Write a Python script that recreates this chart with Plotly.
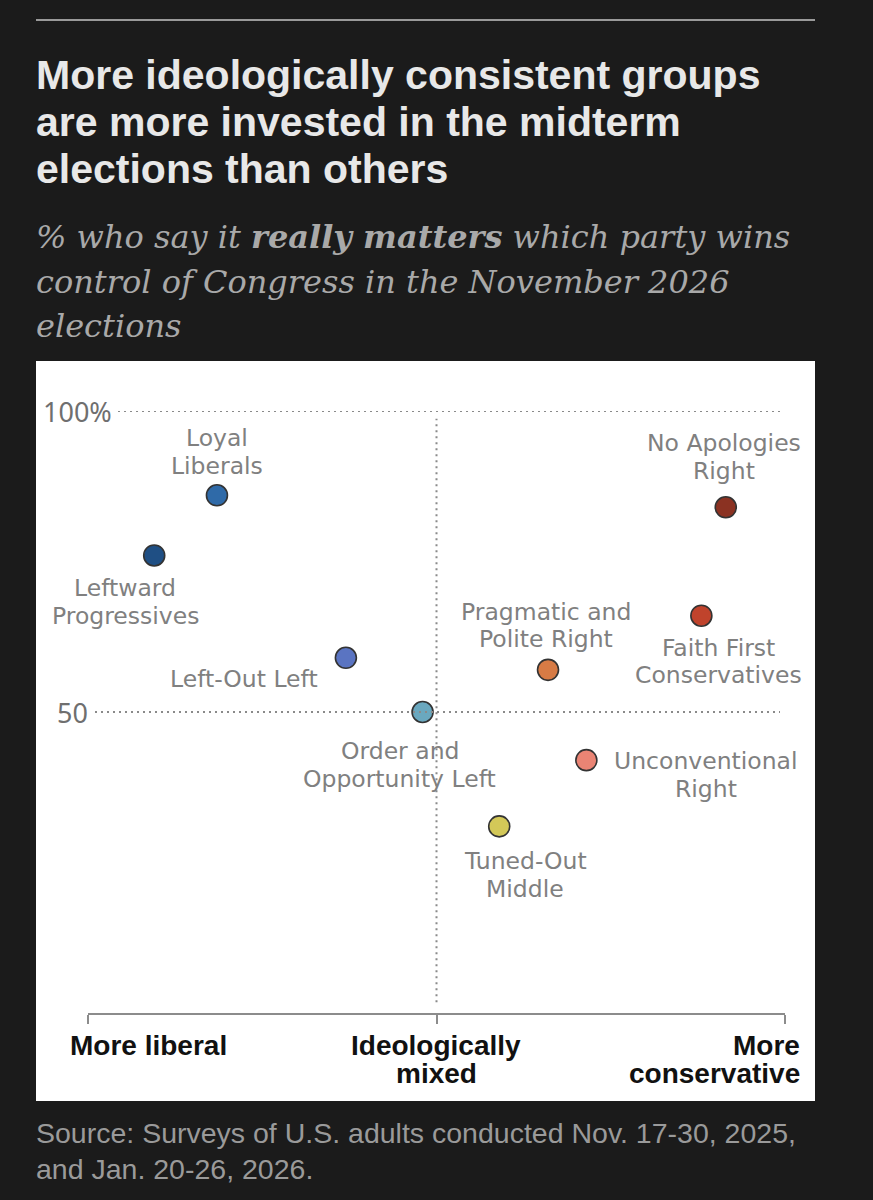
import plotly.graph_objects as go

# data
groups = [
    "Loyal<br>Liberals", "Leftward<br>Progressives", "Left-Out Left",
    "Order and<br>Opportunity Left", "No Apologies<br>Right",
    "Faith First<br>Conservatives", "Pragmatic and<br>Polite Right",
    "Unconventional<br>Right", "Tuned-Out<br>Middle",
]
ideology = [-63, -81, -26, -4, 83, 76, 32, 43, 18]  # -100 liberal .. 100 conservative
really_matters = [86, 76, 59, 50, 84, 66, 57, 42, 31]
colors = ["#2f6aa8", "#1f4f84", "#5a74c2", "#6aa8bf", "#8b3222",
          "#c0432c", "#d77b45", "#ea8474", "#d3c858"]
# label placement relative to the dot, pixels: x shift, y shift of each line (up is +)
label_dx = [0, -29, -102, -23, -2, 17, -2, 120, 26]
label_dy = [(57, 29.5), (-33, -60.5), (-21,), (-39, -66.5), (64, 36.5),
            (-32, -59.5), (58, 30.5), (-1, -28.5), (-35, -62.5)]

y_ticks = [50, 100]
y_ticktext = ["50", "100%"]
x_ticks = [-100, 0, 100]
x_ticktext = ["More liberal", "Ideologically<br>mixed", "More<br>conservative"]

title_lines = ["More ideologically consistent groups",
               "are more invested in the midterm",
               "elections than others"]
subtitle_lines = ["<i>% who say it <b>really matters</b> which party wins</i>",
                  "<i>control of Congress in the November 2026</i>",
                  "<i>elections</i>"]
source_lines = ["Source: Surveys of U.S. adults conducted Nov. 17-30, 2025,",
                "and Jan. 20-26, 2026."]

W, H = 873, 1200
L, R, T, B = 88, 785, 411, 1013   # plot area in pixels


def px(x):
    return (x - L) / (R - L)


def py(y):
    return (B - y) / (B - T)


BG = "#1b1b1b"
LABEL = "#808080"
SANS = "Liberation Sans, Arial, sans-serif"
LAB_FONT = "DejaVu Sans, Noto Sans, sans-serif"

fig = go.Figure()

fig.add_trace(go.Scatter(
    x=ideology, y=really_matters, mode="markers",
    marker=dict(size=21, color=colors, line=dict(color="#333333", width=1.6)),
    hoverinfo="skip", cliponaxis=False, showlegend=False,
))

shapes = [
    # top rule
    dict(type="line", xref="paper", yref="paper", x0=px(36), x1=px(815),
         y0=py(20), y1=py(20), line=dict(color="#9a9a9a", width=2)),
    # white panel
    dict(type="rect", xref="paper", yref="paper", x0=px(36), x1=px(815),
         y0=py(361), y1=py(1101), fillcolor="white", line=dict(width=0),
         layer="below"),
    # vertical dotted line at the middle
    dict(type="line", xref="x", yref="y", x0=0, x1=0, y0=1.8, y1=98.7,
         line=dict(color="#8a8a8a", width=2, dash="2px,4px")),
]
# dotted gridlines
grid_start = {50: px(95), 100: px(118)}
for v in y_ticks:
    shapes.append(dict(type="line", xref="paper", yref="y", x0=grid_start[v],
                       x1=px(780), y0=v, y1=v,
                       line=dict(color="#8a8a8a", width=2, dash="2px,4px")))

annotations = []


def text_line(t, x, y, size, color, family, anchor="left", weight="normal"):
    annotations.append(dict(text=t, xref="paper", yref="paper", x=x, y=y,
                            xanchor=anchor, yanchor="middle", showarrow=False,
                            font=dict(family=family, size=size, color=color, weight=weight)))


for i, t in enumerate(title_lines):
    text_line(t, px(34), py(75 + 47 * i), 41, "#e8e8e8", SANS, weight="bold")
for i, t in enumerate(subtitle_lines):
    text_line(t, px(34), py(237 + 44.5 * i), 32, "#a9a9a9", "DejaVu Serif, serif")
for i, t in enumerate(source_lines):
    text_line(t, px(34), py(1133 + 36 * i), 28.5, "#9a9a9a", SANS)

# y tick labels: numbers aligned, % hanging
tick_right = {50: px(90), 100: px(114)}
for v, t in zip(y_ticks, y_ticktext):
    annotations.append(dict(text=t, xref="paper", yref="y", x=tick_right[v], y=v,
                            xanchor="right", yanchor="middle", showarrow=False,
                            font=dict(family="Noto Sans, sans-serif", size=27, color="#6f6f6f")))

# x axis end labels
x_lab_pos = [(px(68), "left"), (px(436), "center"), (px(802), "right")]
for (xp, anchor), t in zip(x_lab_pos, x_ticktext):
    for j, part in enumerate(t.split("<br>")):
        text_line(part, xp, py(1045 + 28 * j), 28, "#111111", SANS, anchor=anchor,
                  weight="bold")

# group labels
for g, xv, yv, dx, dys in zip(groups, ideology, really_matters, label_dx, label_dy):
    for part, dy in zip(g.split("<br>"), dys):
        annotations.append(dict(text=part, x=xv, y=yv, xref="x", yref="y",
                                xshift=dx, yshift=dy, xanchor="center",
                                yanchor="middle", showarrow=False,
                                font=dict(family=LAB_FONT, size=23.5, color=LABEL)))

fig.update_layout(
    width=W, height=H,
    margin=dict(l=L, r=W - R, t=T, b=H - B, pad=0),
    paper_bgcolor=BG, plot_bgcolor="white",
    shapes=shapes, annotations=annotations,
    xaxis=dict(range=[-100, 100], showgrid=False, zeroline=False,
               showline=True, linecolor="#8c8c8c", linewidth=2,
               ticks="outside", tickvals=x_ticks, ticklen=9, tickwidth=2,
               tickcolor="#8c8c8c", showticklabels=False, fixedrange=True),
    yaxis=dict(range=[0, 100], showgrid=False, zeroline=False, showline=False,
               showticklabels=False, fixedrange=True),
)

fig.write_html("out.html", config={"displayModeBar": False},
               post_script="document.body.style.margin='0';")
